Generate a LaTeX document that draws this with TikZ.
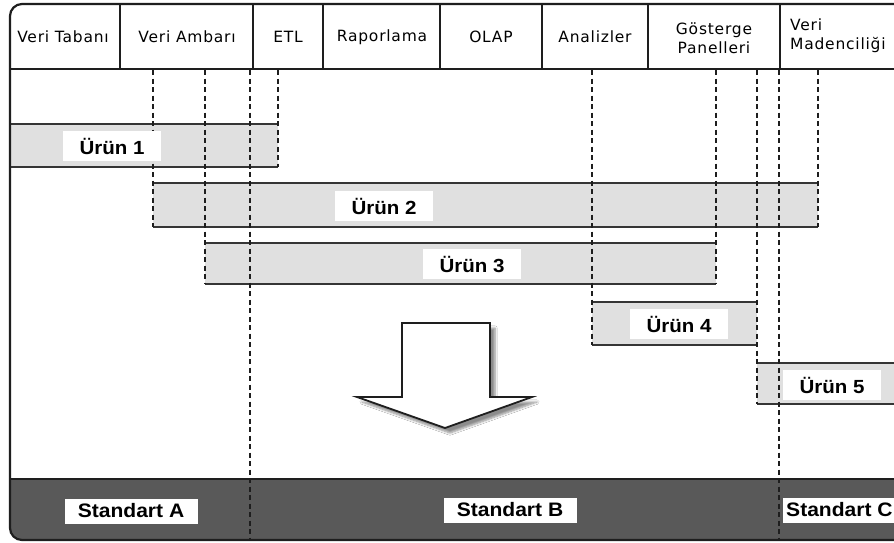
\documentclass[tikz,border=0pt]{standalone}
\usepackage{fontspec}
\setmainfont{DejaVu Sans}
\newfontfamily\hdrfont{DejaVu Sans}[LetterSpace=5]
\newfontfamily\lblfont{Liberation Sans}[FakeStretch=1.08]
\usetikzlibrary{shadows.blur}
\definecolor{barfill}{RGB}{224,224,224}
\definecolor{bandfill}{RGB}{89,89,89}
\definecolor{linegray}{RGB}{30,30,30}
\tikzset{
  frameline/.style={line width=2.2pt, draw=linegray},
  barline/.style={line width=2pt, draw=linegray!90},
  guide/.style={line width=2pt, draw=linegray, dash pattern=on 5pt off 3.5pt},
  hdr/.style={font=\hdrfont\fontsize{15.5}{19}\selectfont, align=center, inner sep=0pt},
  prod/.style={fill=white, font=\lblfont\bfseries\fontsize{19}{21}\selectfont,
    minimum width=98pt, minimum height=30pt, inner sep=0pt},
  stdlabel/.style={fill=white, font=\lblfont\bfseries\fontsize{19.5}{21}\selectfont,
    minimum width=133pt, minimum height=25pt, inner sep=0pt},
}
\begin{document}
\begin{tikzpicture}[x=1pt, y=-1pt]
\useasboundingbox (0,0) rectangle (894,542);
\clip (0,0) rectangle (894,542);
\fill[white] (0,0) rectangle (894,542);

% fills inside the frame, rounded on the left
\begin{scope}
  \clip[rounded corners=12pt] (920,4) -- (10,4) -- (10,540) -- (920,540) -- cycle;
  % standards band
  \fill[bandfill] (0,479) rectangle (920,545);
  % product bars
  \fill[barfill] (10,124) rectangle (278,167);
  \fill[barfill] (153,183) rectangle (818,227);
  \fill[barfill] (205,243) rectangle (716,284);
  \fill[barfill] (592,302) rectangle (757,345);
  \fill[barfill] (757,363) rectangle (920,404);
\end{scope}

% bar edges
\draw[barline] (10,124) -- (278,124) (10,167) -- (278,167);
\draw[barline] (153,183) -- (818,183) (153,227) -- (818,227);
\draw[barline] (205,243) -- (716,243) (205,284) -- (716,284);
\draw[barline] (592,302) -- (757,302) (592,345) -- (757,345);
\draw[barline] (757,363) -- (920,363) (757,404) -- (920,404);

% guide lines from the header down to the bars and standards
\draw[guide] (153,70) -- (153,227);
\draw[guide] (205,70) -- (205,284);
\draw[guide] (250,70) -- (250,541);
\draw[guide] (278,70) -- (278,167);
\draw[guide] (592,70) -- (592,345);
\draw[guide] (716,70) -- (716,284);
\draw[guide] (757,70) -- (757,404);
\draw[guide] (779,70) -- (779,541);
\draw[guide] (818,70) -- (818,227);

% header row
\draw[frameline] (10,69) -- (920,69);
\foreach \xx in {120,253,323,440,542,648,780}
  \draw[frameline] (\xx,4) -- (\xx,69);
\draw[frameline] (10,479) -- (920,479);
\draw[frameline, rounded corners=12pt] (920,4) -- (10,4) -- (10,540) -- (920,540);

\node[hdr] (h1) at (63,37) {Veri Tabanı};
\node[hdr] (h2) at (187,37) {Veri Ambarı};
\node[hdr] (h3) at (288,37) {ETL};
\node[hdr] (h4) at (382,37) {Raporlama};
\node[hdr] (h5) at (491,37) {OLAP};
\node[hdr] (h6) at (595,37) {Analizler};
\node[hdr] (h7) at (714,38) {Gösterge\\Panelleri};
\node[hdr, align=left, anchor=west] (h8) at (790,36) {Veri\\Madenciliği};

% product labels
\node[prod] (p1) at (112,146) {Ürün 1};
\node[prod] (p2) at (384,206) {Ürün 2};
\node[prod] (p3) at (472,264) {Ürün 3};
\node[prod] (p4) at (679,324) {Ürün 4};
\node[prod] (p5) at (832,385) {Ürün 5};

% standards labels
\node[stdlabel] (sa) at (131,511) {Standart A};
\node[stdlabel] (sb) at (510,510) {Standart B};
\node[stdlabel, anchor=west, minimum width=0pt, inner xsep=3pt] (sc) at (783,510) {Standart C};

% block arrow pointing down
\draw[line width=1.8pt, draw=linegray, fill=white,
      blur shadow={shadow xshift=5pt, shadow yshift=-5pt, shadow blur steps=6, shadow opacity=45}]
  (402,323) -- (490,323) -- (490,397) -- (532,397) -- (445,428) -- (357,397) -- (402,397) -- cycle;
\end{tikzpicture}
\end{document}
